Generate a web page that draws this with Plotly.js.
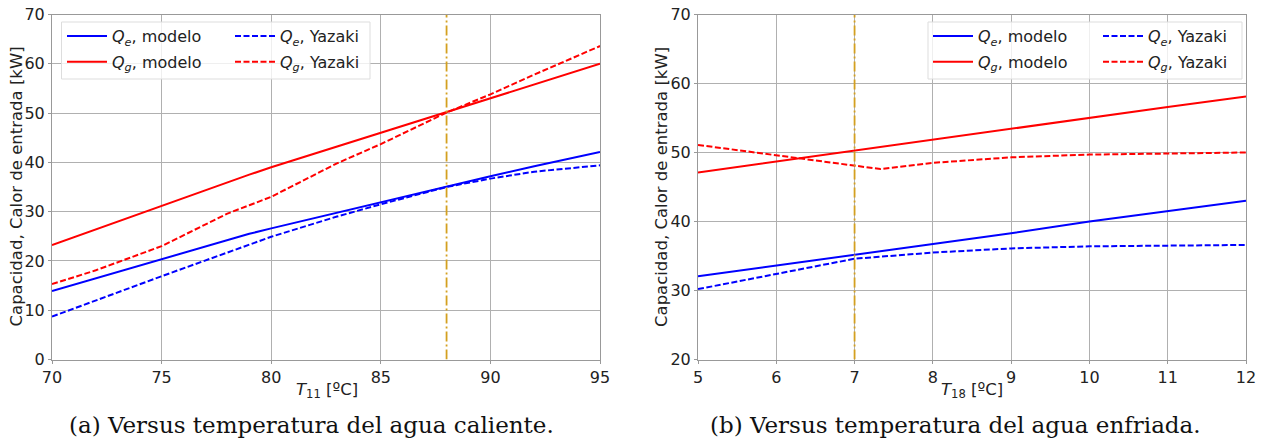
<!DOCTYPE html>
<html>
<head>
<meta charset="utf-8">
<script src="https://cdn.plot.ly/plotly-3.0.1.min.js"></script>
<style>html,body{margin:0;padding:0;background:#fff;}#chart{width:1266px;height:447px;}</style>
</head>
<body>
<div id="chart"></div>
<script>
// Left panel: versus hot water temperature T11
const xHot = [70, 72, 75, 78, 79, 80, 83, 85, 88, 90, 92, 95];
const qeModeloHot = [13.9, 16.5, 20.4, 24.2, 25.5, 26.6, 29.8, 31.9, 35.1, 37.2, 39.2, 42.1];
const qgModeloHot = [23.2, 26.4, 31.2, 36.0, 37.5, 39.0, 43.2, 46.0, 50.2, 53.0, 55.9, 60.0];
const qeYazakiHot = [8.7, 12.0, 16.9, 21.7, 23.3, 24.9, 29.0, 31.5, 35.0, 36.7, 38.1, 39.4];
const qgYazakiHot = [15.3, 18.1, 23.0, 29.6, 31.3, 33.0, 39.8, 43.7, 50.1, 53.8, 57.8, 63.6];
const refHot = 88;

// Right panel: versus chilled water temperature T18
const xCold = [5, 6, 7, 7.33, 8, 9, 10, 11, 12];
const qeModeloCold = [32.05, 33.6, 35.2, 35.7, 36.7, 38.3, 40.0, 41.5, 43.0];
const qgModeloCold = [47.1, 48.7, 50.3, 50.8, 51.9, 53.5, 55.05, 56.6, 58.1];
const qeYazakiCold = [30.2, 32.4, 34.6, 34.9, 35.5, 36.1, 36.4, 36.5, 36.6];
const qgYazakiCold = [51.1, 49.6, 48.2, 47.6, 48.5, 49.3, 49.7, 49.8, 50.0];
const refCold = 7;

const seriesNames = ['<i>Q<sub>e</sub></i>, modelo', '<i>Q<sub>e</sub></i>, Yazaki', '<i>Q<sub>g</sub></i>, modelo', '<i>Q<sub>g</sub></i>, Yazaki'];
const captions = ['(a) Versus temperatura del agua caliente.', '(b) Versus temperatura del agua enfriada.'];
const xTitles = ['<i>T</i><sub>11</sub> [ºC]', '<i>T</i><sub>18</sub> [ºC]'];
const yTitle = 'Capacidad, Calor de entrada [kW]';

const BLUE = '#0000ff', RED = '#ff0000', GOLD = '#d4a020';
const DASH = '6px,2.5px', DASHDOT = '10px,3px,2px,3px';
const W = 1266, H = 447;

function mk(x, y, name, color, dash, xa, ya, leg, grp) {
  return {x: x, y: y, name: name, type: 'scatter', mode: 'lines', legendgroup: grp,
    line: {color: color, width: 2, dash: dash}, xaxis: xa, yaxis: ya, legend: leg};
}

const traces = [
  mk(xHot, qeModeloHot, seriesNames[0], BLUE, 'solid', 'x', 'y', 'legend', 'a1'),
  mk(xHot, qgModeloHot, seriesNames[2], RED, 'solid', 'x', 'y', 'legend', 'a2'),
  mk(xHot, qeYazakiHot, seriesNames[1], BLUE, DASH, 'x', 'y', 'legend2', 'a3'),
  mk(xHot, qgYazakiHot, seriesNames[3], RED, DASH, 'x', 'y', 'legend2', 'a4'),
  mk(xCold, qeModeloCold, seriesNames[0], BLUE, 'solid', 'x2', 'y2', 'legend3', 'b1'),
  mk(xCold, qgModeloCold, seriesNames[2], RED, 'solid', 'x2', 'y2', 'legend3', 'b2'),
  mk(xCold, qeYazakiCold, seriesNames[1], BLUE, DASH, 'x2', 'y2', 'legend4', 'b3'),
  mk(xCold, qgYazakiCold, seriesNames[3], RED, DASH, 'x2', 'y2', 'legend4', 'b4'),
  {x: [refHot, refHot], y: [0, 70], mode: 'lines', type: 'scatter', showlegend: false,
   line: {color: GOLD, width: 1.8, dash: DASHDOT}, xaxis: 'x', yaxis: 'y'},
  {x: [refCold, refCold], y: [20, 70], mode: 'lines', type: 'scatter', showlegend: false,
   line: {color: GOLD, width: 1.8, dash: DASHDOT}, xaxis: 'x2', yaxis: 'y2'}
];

const tickFont = {family: 'DejaVu Sans', size: 16, color: '#222'};
const titleFont = {family: 'DejaVu Sans', size: 16.5, color: '#222'};
const yDom = [(H - 359.5) / H, (H - 14.5) / H];

function xax(dom, range, dtick, anchor) {
  return {domain: dom, range: range, dtick: dtick, tick0: range[0], showgrid: true, gridcolor: '#b0b0b0',
    gridwidth: 1, zeroline: false, showline: true, mirror: true, linecolor: '#999', linewidth: 1,
    ticks: 'outside', ticklen: 3, tickcolor: '#999', tickfont: tickFont, automargin: false, anchor: anchor};
}
function yax(dom, range, dtick, anchor) {
  return {domain: dom, range: range, dtick: dtick, tick0: range[0], showgrid: true, gridcolor: '#b0b0b0',
    gridwidth: 1, zeroline: false, showline: true, mirror: true, linecolor: '#999', linewidth: 1,
    ticks: 'outside', ticklen: 3, tickcolor: '#999', tickfont: tickFont, automargin: false, anchor: anchor};
}

const legendBase = {orientation: 'v', bgcolor: 'rgba(0,0,0,0)', borderwidth: 0,
  font: {family: 'DejaVu Sans', size: 16, color: '#222'}, itemwidth: 40, tracegroupgap: 2,
  xanchor: 'left', yanchor: 'top', y: (H - 19) / H};

function legendBox(x0, x1) {
  return {type: 'rect', xref: 'paper', yref: 'paper', x0: x0 / W, x1: x1 / W, y0: (H - 79) / H, y1: (H - 22) / H,
    fillcolor: 'rgba(255,255,255,0.8)', line: {color: '#dddddd', width: 1}, layer: 'above'};
}

function textAnn(xpx, ypx, text, font, angle, yanchor) {
  return {text: text, x: xpx / W, y: (H - ypx) / H, xref: 'paper', yref: 'paper', showarrow: false,
    textangle: angle, font: font, xanchor: 'center', yanchor: yanchor || 'middle'};
}
const captionFont = {family: 'DejaVu Serif', size: 23, color: '#111'};

const layout = {
  width: W, height: H, margin: {l: 0, r: 0, t: 0, b: 0},
  paper_bgcolor: '#fff', plot_bgcolor: '#fff', showlegend: true,
  xaxis: xax([52 / W, 600 / W], [70, 95], 5, 'y'),
  yaxis: yax(yDom, [0, 70], 10, 'x'),
  xaxis2: xax([698 / W, 1246 / W], [5, 12], 1, 'y2'),
  yaxis2: yax(yDom, [20, 70], 10, 'x2'),
  legend: Object.assign({}, legendBase, {x: 62 / W}),
  legend2: Object.assign({}, legendBase, {x: 230 / W}),
  legend3: Object.assign({}, legendBase, {x: 928 / W}),
  legend4: Object.assign({}, legendBase, {x: 1098 / W}),
  shapes: [legendBox(61.5, 370), legendBox(928, 1242)],
  annotations: [
    textAnn(15.5, 187, yTitle, titleFont, -90),
    textAnn(661, 187, yTitle, titleFont, -90),
    textAnn(327, 378, xTitles[0], titleFont, 0, 'top'),
    textAnn(972, 378, xTitles[1], titleFont, 0, 'top'),
    textAnn(311, 425, captions[0], captionFont, 0),
    textAnn(955, 425, captions[1], captionFont, 0)
  ]
};

Plotly.newPlot('chart', traces, layout, {displayModeBar: false, staticPlot: true});
</script>
</body>
</html>
